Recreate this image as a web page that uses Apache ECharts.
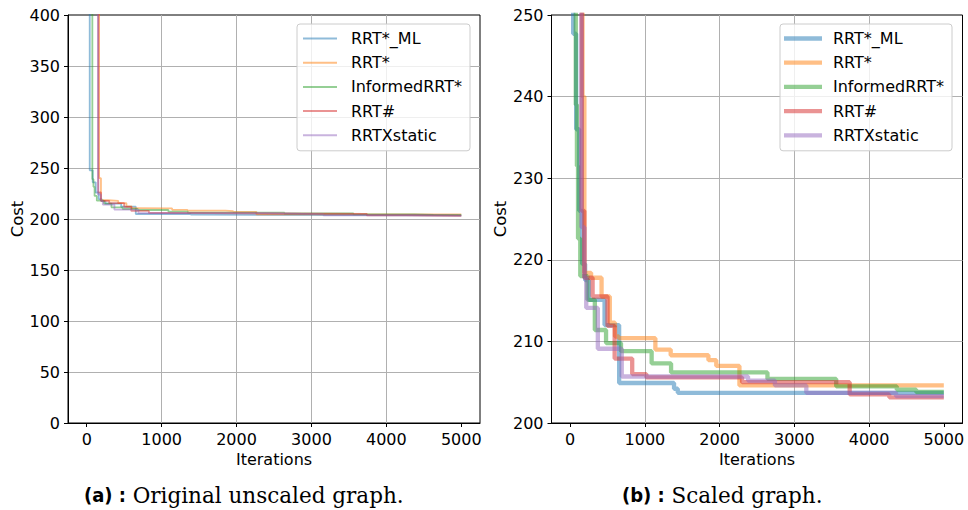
<!DOCTYPE html>
<html>
<head>
<meta charset="utf-8">
<script src="https://cdn.jsdelivr.net/npm/echarts@6/dist/echarts.min.js"></script>
<style>
html,body{margin:0;padding:0;background:#fff;}
#c{width:968px;height:510px;}
</style>
</head>
<body>
<div id="c"></div>
<script>
// ---- data ----
const names = ['RRT*_ML', 'RRT*', 'InformedRRT*', 'RRT#', 'RRTXstatic'];

const itML   = [30, 40, 80, 120, 160, 200, 250, 460, 655, 1390, 1440, 5000];
const costML = [620, 247.7, 236, 226, 219.5, 217.5, 215.1, 212.0, 204.9, 204.2, 203.7, 203.7];

const itRRTs   = [150, 165, 190, 280, 420, 530, 600, 650, 1140, 1345, 1850, 1955, 2265, 5000];
const costRRTs = [700, 240, 218.4, 217.8, 215.5, 212.3, 210.6, 210.4, 209.0, 208.3, 207.7, 207.0, 204.6, 204.6];

const itInf   = [60, 75, 90, 105, 135, 230, 330, 480, 680, 1090, 1350, 2640, 3560, 4370, 4630, 5000];
const costInf = [650, 239, 231.5, 222.6, 218.0, 215.1, 211.4, 209.8, 208.8, 207.3, 206.2, 205.4, 204.5, 204.1, 203.8, 203.8];

const itSharp   = [140, 155, 190, 300, 500, 595, 830, 1020, 2300, 3740, 4270, 5000];
const costSharp = [720, 226, 217.8, 215.5, 211.9, 207.9, 206.0, 205.6, 205.0, 203.5, 203.15, 203.15];

const itX   = [135, 150, 190, 215, 370, 690, 2380, 2740, 3160, 4360, 5000];
const costX = [700, 224, 217.8, 214.1, 209.1, 205.7, 205.2, 204.6, 203.7, 203.3, 203.3];

const xTicks = [0, 1000, 2000, 3000, 4000, 5000];
const captionA = ['(a) :', 'Original unscaled graph.'];
const captionB = ['(b) :', 'Scaled graph.'];

// ---- styles ----
const colors = ['#1f77b4', '#ff7f0e', '#2ca02c', '#d62728', '#9467bd'];
const allIts = [itML, itRRTs, itInf, itSharp, itX];
const allCosts = [costML, costRRTs, costInf, costSharp, costX];
const FONT = 'DejaVu Sans';

function pairs(xs, ys) { return xs.map((x, i) => [x, ys[i]]); }

function xAxisCfg(gi) {
  return {
    type: 'value', gridIndex: gi, min: -250, max: 5250,
    name: 'Iterations', nameLocation: 'middle', nameGap: 24,
    nameTextStyle: { fontFamily: FONT, fontSize: 16, color: '#000' },
    axisLine: { show: true, onZero: false, lineStyle: { color: '#000', width: 1 } },
    axisTick: { show: true, length: 4, customValues: xTicks, lineStyle: { color: '#000' } },
    axisLabel: { customValues: xTicks, margin: 8, fontFamily: FONT, fontSize: 16, color: '#000',
                 formatter: v => String(v) },
    splitLine: { show: true, showMinLine: false, showMaxLine: false, lineStyle: { color: '#b0b0b0', width: 1 } }
  };
}
function yAxisCfg(gi, mn, mx, step, gap) {
  return {
    type: 'value', gridIndex: gi, min: mn, max: mx, interval: step,
    name: 'Cost', nameLocation: 'middle', nameGap: gap, nameRotate: 90,
    nameTextStyle: { fontFamily: FONT, fontSize: 16.5, color: '#000' },
    axisLine: { show: true, onZero: false, lineStyle: { color: '#000', width: 1 } },
    axisTick: { show: true, length: 4, lineStyle: { color: '#000' } },
    axisLabel: { margin: 8, fontFamily: FONT, fontSize: 16, color: '#000', formatter: v => String(v) },
    splitLine: { show: true, showMinLine: false, showMaxLine: false, lineStyle: { color: '#b0b0b0', width: 1 } }
  };
}

const series = [];
[0, 1].forEach(gi => {
  names.forEach((n, i) => {
    series.push({
      type: 'line', name: n, xAxisIndex: gi, yAxisIndex: gi,
      step: 'end', showSymbol: false, symbol: 'none', clip: true,
      data: pairs(allIts[i], allCosts[i]),
      lineStyle: { color: colors[i], width: gi === 0 ? 1.8 : 4.3, opacity: 0.5 },
      itemStyle: { color: colors[i] },
      emphasis: { disabled: true }, silent: true, animation: false
    });
  });
});

function legendCfg(left, padL, iw, txtPad, lw) {
  return {
    data: names, orient: 'vertical', left: left, top: 24,
    selectedMode: false,
    icon: 'rect',
    itemWidth: iw, itemHeight: lw, itemGap: 5.2,
    padding: [5, 8, 6, padL],
    backgroundColor: 'rgba(255,255,255,0.8)', borderColor: '#cccccc', borderWidth: 1, borderRadius: 3,
    itemStyle: { opacity: 0.5, borderWidth: 0 },
    textStyle: { fontFamily: FONT, fontSize: 16, color: '#000', lineHeight: 19, padding: [0, 0, 0, txtPad] }
  };
}

function caption(x, parts) {
  return {
    type: 'text', left: x, top: 484,
    style: {
      text: '{b|' + parts[0] + '}  {s|' + parts[1] + '}',
      rich: {
        b: { fontFamily: '"Liberation Sans Narrow", "DejaVu Sans Condensed", "DejaVu Sans"', fontWeight: 'bold', fontSize: 20, fill: '#000' },
        s: { fontFamily: '"DejaVu Serif"', fontSize: 21.5, fill: '#000' }
      }
    }
  };
}

const chart = echarts.init(document.getElementById('c'), null, { renderer: 'svg' });
chart.setOption({
  animation: false,
  backgroundColor: '#fff',
  grid: [
    { left: 68, top: 15, width: 412, height: 408, show: true, borderColor: '#000', borderWidth: 1, backgroundColor: 'transparent' },
    { left: 551.5, top: 15, width: 411, height: 408, show: true, borderColor: '#000', borderWidth: 1, backgroundColor: 'transparent' }
  ],
  xAxis: [xAxisCfg(0), xAxisCfg(1)],
  yAxis: [yAxisCfg(0, 0, 400, 50, 38), yAxisCfg(1, 200, 250, 10, 42)],
  legend: [legendCfg(297, 6, 34, 9, 2), legendCfg(780, 4, 38, 6, 4.3)],
  tooltip: { show: false },
  series: series,
  graphic: [caption(84, captionA), caption(622, captionB)]
});
</script>
</body>
</html>
